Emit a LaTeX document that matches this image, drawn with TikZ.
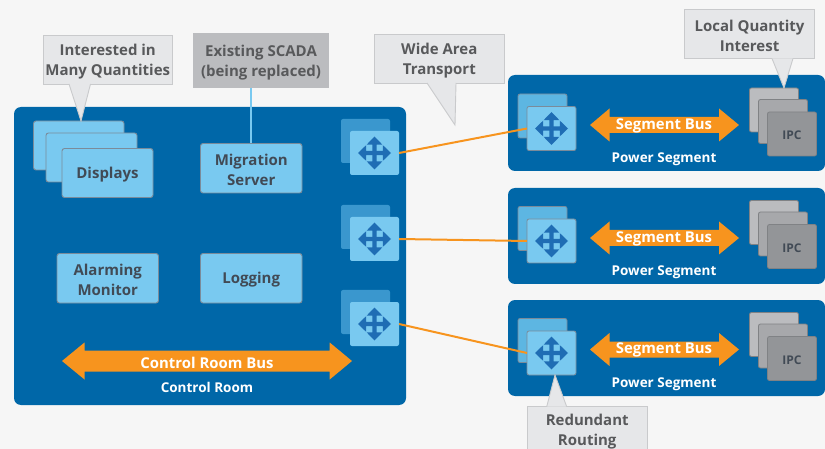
\documentclass[tikz,border=0pt]{standalone}
\usepackage{fontspec}
\setmainfont{Open Sans}
\definecolor{pagebg}{HTML}{F6F6F6}
\definecolor{panel}{HTML}{0067A8}
\definecolor{sky}{HTML}{79C9F0}
\definecolor{skyback}{HTML}{5DB6E2}
\definecolor{ctrlback}{HTML}{3A97CE}
\definecolor{edge}{HTML}{7B8B9A}
\definecolor{iconblue}{HTML}{1F6DB4}
\definecolor{orangebus}{HTML}{F7941E}
\definecolor{callfill}{HTML}{E6E7E9}
\definecolor{callline}{HTML}{C9CACC}
\definecolor{scada}{HTML}{BBBCBF}
\definecolor{ipcA}{HTML}{BBBCBF}
\definecolor{ipcB}{HTML}{A7A8AB}
\definecolor{ipcC}{HTML}{939598}
\definecolor{ipcline}{HTML}{808285}
\definecolor{calltext}{HTML}{58595B}
\definecolor{boxtext}{HTML}{414A55}
\newcommand\dnstrut{\rule{0pt}{15pt}}
\tikzset{
  every node/.style={inner sep=0pt,outer sep=0pt,align=center,font=\bfseries},
  panelbox/.style={fill=panel,rounded corners=7pt,anchor=north west},
  appbox/.style={fill=sky,draw=edge,line width=0.9pt,rounded corners=2.5pt,text=boxtext,font=\fontsize{15}{20}\selectfont\bfseries,anchor=north west},
  ctrlbackbox/.style={fill=ctrlback,rounded corners=2pt,anchor=north west,minimum width=49pt,minimum height=44pt},
  ctrlfrontbox/.style={fill=sky,rounded corners=2pt,anchor=north west,minimum width=49pt,minimum height=44pt},
  segbackbox/.style={fill=skyback,draw=edge,line width=0.8pt,rounded corners=2pt,anchor=north west,minimum width=49pt,minimum height=44pt},
  segfrontbox/.style={fill=sky,draw=edge,line width=0.8pt,rounded corners=2pt,anchor=north west,minimum width=49pt,minimum height=44pt},
  ipcbox/.style={draw=ipcline,line width=0.8pt,rounded corners=2pt,anchor=north west,minimum width=49pt,minimum height=44pt},
  callbox/.style={fill=callfill,draw=callline,line width=0.9pt,text=calltext,font=\fontsize{15}{20}\selectfont\bfseries,anchor=north west},
  calltail/.style={fill=callfill},
  tailedge/.style={draw=callline,line width=0.9pt},
  wan/.style={draw=orangebus,line width=2pt},
  busarrow/.style={fill=orangebus},
  bustext/.style={text=white,font=\fontsize{14.9}{18}\selectfont\bfseries},
  seglabel/.style={text=white,font=\fontsize{13.5}{16}\selectfont\bfseries},
  icon/.style={fill=iconblue},
}
% callout tail: left base, right base, tip
\newcommand\calltailshape[3]{%
  \fill[calltail] (#1) -- (#3) -- (#2) -- cycle;
  \draw[tailedge] (#1) -- (#3) -- (#2);
}
% four-way arrows at a named coordinate
\newcommand\moveicon[1]{%
  \begin{scope}[shift={(#1)}]
    \foreach \r in {0,90,180,270}{
      \fill[icon,rotate=\r] (-2.2,0) -- (-2.2,-8.4) -- (-7.8,-8.4) -- (0,-16.5) -- (7.8,-8.4) -- (2.2,-8.4) -- (2.2,0) -- cycle;
    }
  \end{scope}%
}
% double-headed bus: centre y, left tip, left base, right base, right tip, head half, shaft half
\newcommand\busshape[7]{%
  \fill[busarrow] (#2,#1) -- (#3,#1-#6) -- (#3,#1-#7) -- (#4,#1-#7) -- (#4,#1-#6) -- (#5,#1) -- (#4,#1+#6) -- (#4,#1+#7) -- (#3,#1+#7) -- (#3,#1+#6) -- cycle;
}
\begin{document}
\begin{tikzpicture}[x=1pt,y=-1pt]
\useasboundingbox (0,0) rectangle (825,449);
\clip (0,0) rectangle (825,449);
\fill[pagebg] (0,0) rectangle (825,449);

% panels
\node[panelbox,minimum width=392pt,minimum height=298pt] (room) at (14,107) {};
\node[panelbox,minimum width=317pt,minimum height=96pt] (seg1) at (508,75) {};
\node[panelbox,minimum width=317pt,minimum height=96pt] (seg2) at (508,188) {};
\node[panelbox,minimum width=317pt,minimum height=96pt] (seg3) at (508,300) {};

% SCADA
\node[fill=scada,text=calltext,font=\fontsize{15}{20}\selectfont\bfseries,anchor=north west,minimum width=136pt,minimum height=55pt] (scadabox) at (193,33) {\dnstrut Existing SCADA\\(being replaced)};

% apps
\node[appbox,minimum width=90.5pt,minimum height=49pt] (disp1) at (33.5,121) {};
\node[appbox,minimum width=91pt,minimum height=49pt] (disp2) at (46,133) {};
\node[appbox,minimum width=91pt,minimum height=49pt] (disp3) at (62,148.5) {\dnstrut Displays};
\node[appbox,minimum width=101.5pt,minimum height=49.5pt] (migr) at (200.5,143.5) {\dnstrut Migration\\Server};
\node[appbox,minimum width=101.5pt,minimum height=49.5pt] (alarm) at (57,253.5) {\dnstrut Alarming\\Monitor};
\node[appbox,minimum width=101.5pt,minimum height=49.5pt] (logg) at (200.5,253.5) {\dnstrut Logging};
\draw[draw=sky,line width=2pt] (migr.north |- scadabox.south) -- (migr.north);

% control room routers
\node[ctrlbackbox] (crb1) at (341,119) {};
\node[ctrlbackbox] (crb2) at (341,205) {};
\node[ctrlbackbox] (crb3) at (341,290) {};

% segment routers back
\node[segbackbox] (sgb1) at (518,94) {};
\node[segbackbox] (sgb2) at (518,206.5) {};
\node[segbackbox] (sgb3) at (518,318.5) {};

% front routers
\node[ctrlfrontbox] (crf1) at (350,131) {};
\node[ctrlfrontbox] (crf2) at (350,217) {};
\node[ctrlfrontbox] (crf3) at (350,302) {};
\node[segfrontbox] (sgf1) at (527,106.5) {};
\node[segfrontbox] (sgf2) at (527,219) {};
\node[segfrontbox] (sgf3) at (527,331) {};

% wide area links
\draw[wan] (crf1.east) -- (sgf1.west);
\draw[wan] (crf2.east) -- (sgf2.west);
\draw[wan] (crf3.east) -- (sgf3.west);

\moveicon{crf1.center}\moveicon{crf2.center}\moveicon{crf3.center}
\moveicon{sgf1.center}\moveicon{sgf2.center}\moveicon{sgf3.center}

% IPC stacks
\foreach \n/\d in {1/0,2/112.5,3/224.5}{
  \node[ipcbox,fill=ipcA] (ipcA\n) at (749.5,88+\d) {};
  \node[ipcbox,fill=ipcB] (ipcB\n) at (758.5,99.5+\d) {};
  \node[ipcbox,fill=ipcC,text=boxtext,font=\fontsize{12}{16}\selectfont\bfseries] (ipcC\n) at (767.5,112+\d) {\rule{0pt}{12pt}IPC};
}

% buses
\busshape{125}{590}{609.5}{719}{739}{16.5}{8}
\busshape{238}{590}{609.5}{719}{739}{16.5}{8}
\busshape{349.5}{590}{609.5}{719}{739}{16.5}{8}
\busshape{361}{62}{84.5}{329.7}{352}{18.5}{10.5}
\node[bustext] (sb1) at (664,126) {Segment Bus};
\node[bustext] (sb2) at (664,239) {Segment Bus};
\node[bustext] (sb3) at (664,350) {Segment Bus};
\node[bustext] (crbus) at (207,362.5) {Control Room Bus};
\node[seglabel] (ps1) at (664,159) {Power Segment};
\node[seglabel] (ps2) at (664,272) {Power Segment};
\node[seglabel] (ps3) at (664,384) {Power Segment};
\node[seglabel] (crlab) at (207,387.5) {Control Room};

% callouts
\node[callbox,minimum width=129.5pt,minimum height=49pt] (c1) at (43,35) {\dnstrut Interested in\\Many Quantities};
\coordinate (c1l) at (69,84); \coordinate (c1r) at (90.5,84); \coordinate (c1t) at (81,121);
\calltailshape{c1l}{c1r}{c1t}
\node[callbox,minimum width=130pt,minimum height=49pt] (c2) at (374.3,34) {\dnstrut Wide Area\\Transport};
\coordinate (c2l) at (427,83); \coordinate (c2r) at (456,83); \coordinate (c2t) at (455,125);
\calltailshape{c2l}{c2r}{c2t}
\node[callbox,minimum width=130.5pt,minimum height=49pt] (c3) at (684.3,9.5) {\dnstrut Local Quantity\\Interest};
\coordinate (c3l) at (772,58.5); \coordinate (c3r) at (793,58.5); \coordinate (c3t) at (784,88);
\calltailshape{c3l}{c3r}{c3t}
\node[callbox,minimum width=120.5pt,minimum height=50pt,anchor=north] (c4) at (587.2,406.7) {Redundant\\Routing\rule[-3pt]{0pt}{3pt}};
\coordinate (c4l) at (546.7,406.7); \coordinate (c4r) at (566.7,406.7); \coordinate (c4t) at (555,375);
\calltailshape{c4l}{c4r}{c4t}
\end{tikzpicture}
\end{document}
